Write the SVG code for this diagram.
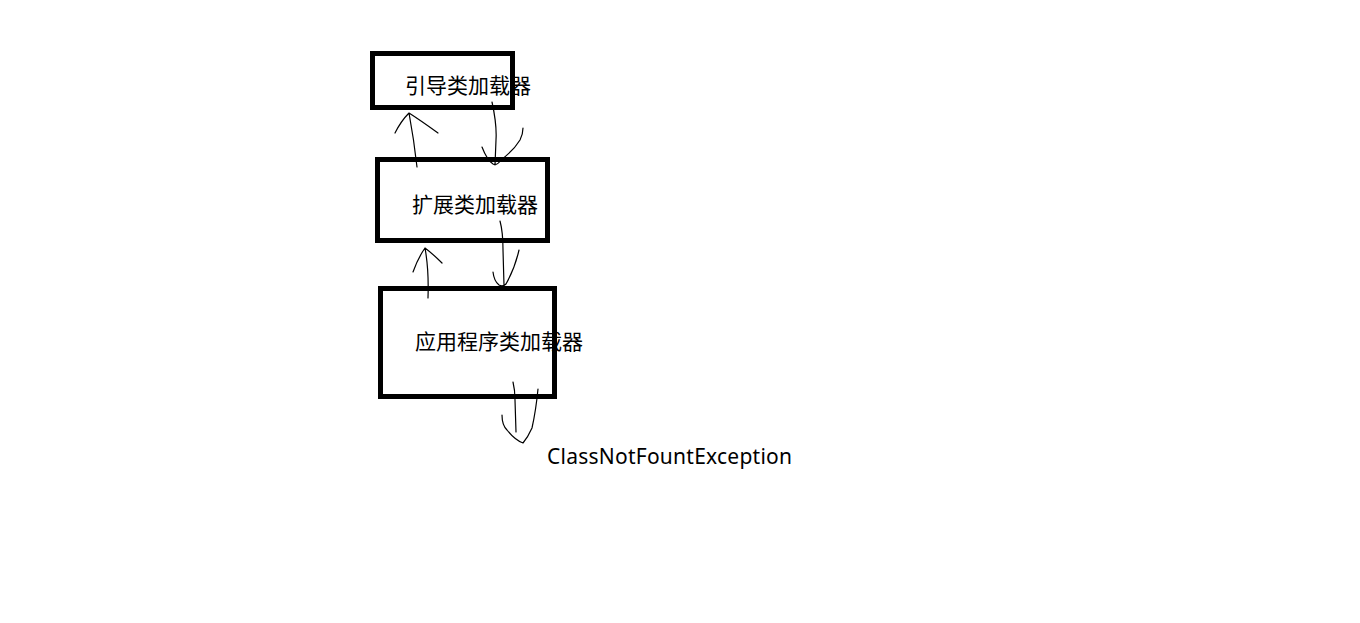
<svg xmlns="http://www.w3.org/2000/svg" width="1360" height="623" viewBox="0 0 1360 623">
<style>
.box{fill:none;stroke:#000;stroke-width:5}
.t{font-family:"Microsoft YaHei","Noto Sans CJK SC",sans-serif;font-size:21px;fill:#000}
.e{font-family:"Microsoft YaHei","Noto Sans","Liberation Sans",sans-serif;font-size:21px;fill:#000}
.c{fill:none;stroke:#000;stroke-width:1.2;stroke-linecap:round;stroke-linejoin:round}
</style>
<rect width="1360" height="623" fill="#fff"/>
<g id="node-bootstrap">
<rect class="box" x="372.5" y="53.5" width="140" height="54"/>
<text class="t" x="405" y="93" textLength="126">引导类加载器</text>
</g>
<g id="node-extension">
<rect class="box" x="377.5" y="159.5" width="170" height="81"/>
<text class="t" x="412" y="212" textLength="126">扩展类加载器</text>
</g>
<g id="node-application">
<rect class="box" x="380.5" y="288.5" width="174" height="108"/>
<text class="t" x="415" y="349" textLength="168">应用程序类加载器</text>
</g>
<g id="node-exception">
<text class="e" x="547" y="464" textLength="245">ClassNotFountException</text>
</g>
<g id="connectors">
<path class="c" d="M417,167 Q414,140 409,113 M395,133 Q401,121 409,113 Q420,120 438,133"/>
<path class="c" d="M492,102 Q497,125 496,140 L495,165 M482,147 Q487,160 493,164 Q497,166 501,160 Q514,150 520,140 Q523,134 523,128"/>
<path class="c" d="M428,298 Q429,270 425,248 M413,272 Q418,258 425,248 Q433,254 442,263"/>
<path class="c" d="M500,221 Q503,232 503,250 L504,285 M493,272 Q494,281 499,285 Q503,287 506,284 Q515,268 519,250"/>
<path class="c" d="M513,382 Q515,390 515,400 L516,432 M502,415 Q502,425 507,430 Q515,440 523,443 Q528,437 532,428 Q536,410 538,389"/>
</g>
</svg>
